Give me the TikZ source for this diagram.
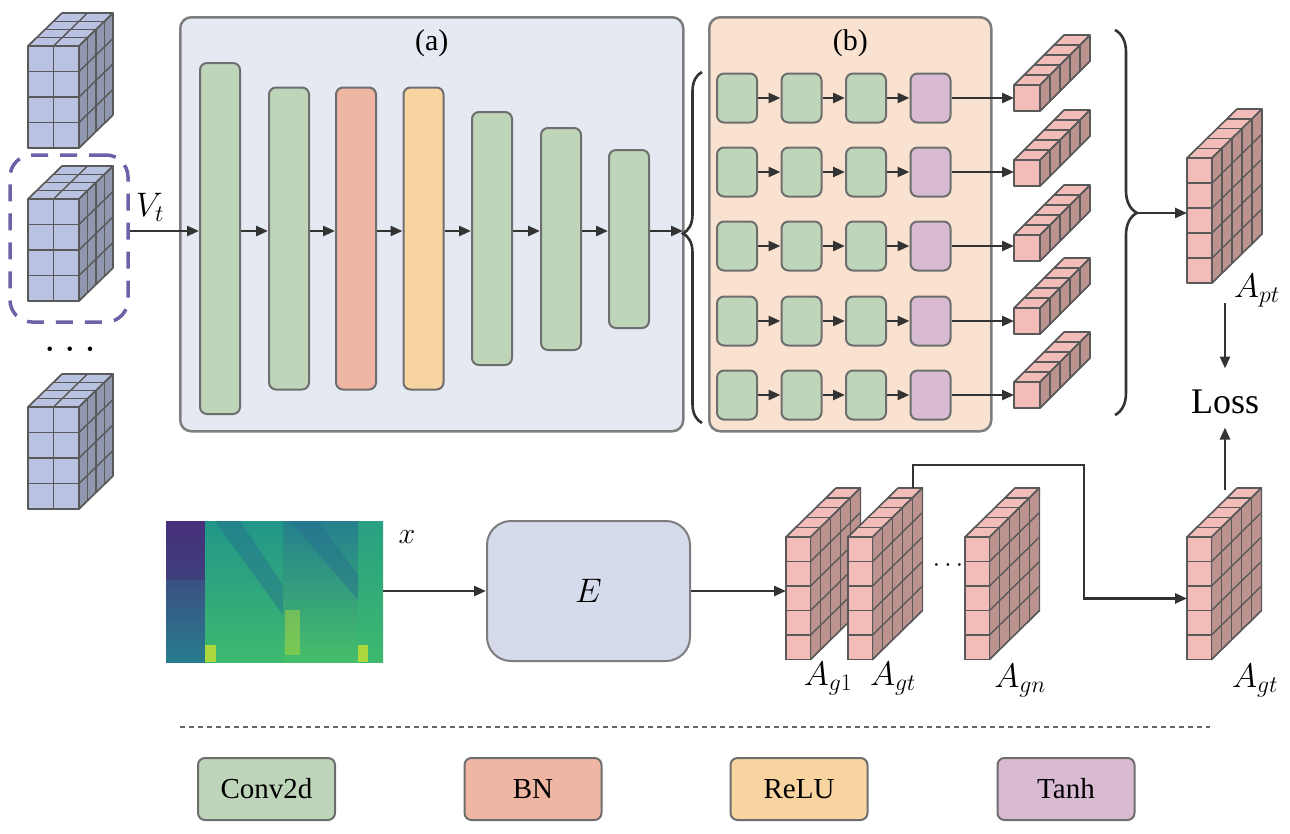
\documentclass[tikz,border=0pt]{standalone}
\usepackage{fix-cm}
\usepackage{fontspec}
\setmainfont{Liberation Serif}
\usepackage{tikz}
\usetikzlibrary{arrows.meta,positioning,decorations.pathreplacing}

\definecolor{convc}{HTML}{BFD5B9}
\definecolor{bnc}{HTML}{EFB6A3}
\definecolor{reluc}{HTML}{F8D4A0}
\definecolor{tanhc}{HTML}{D8BBD2}
\definecolor{panela}{HTML}{E4E9F2}
\definecolor{panelb}{HTML}{FAE2D0}
\definecolor{eboxc}{HTML}{D5DBEB}
\definecolor{edgec}{HTML}{6E6E6E}
\definecolor{cubeb}{HTML}{B9C3E1}
\definecolor{cubep}{HTML}{F2BCB9}
\definecolor{dashc}{HTML}{6C62A8}
\definecolor{arrc}{HTML}{333333}
\definecolor{vpurple}{RGB}{70,48,122}
\definecolor{vblue}{RGB}{40,125,142}
\definecolor{vteal}{RGB}{33,150,138}
\definecolor{vteal2}{RGB}{36,128,142}
\definecolor{vgreen}{RGB}{62,185,110}
\definecolor{vgreen2}{RGB}{70,190,105}
\definecolor{vgreen3}{RGB}{40,160,130}
\definecolor{vdark}{RGB}{38,110,142}
\definecolor{vyellow}{RGB}{200,225,50}
\colorlet{cubec}{cubep}

% #1,#2 front top-left, #3 wide, #4 high, #5 deep, #6 cube size, #7/#8 depth step, #9 name
\newcommand{\cubeblk}[9]{%
  \pgfmathsetmacro\bxr{#1+#3*#6}%
  \pgfmathsetmacro\byb{#2+#4*#6}%
  \pgfmathsetmacro\bdx{#5*#7}%
  \pgfmathsetmacro\bdy{#5*#8}%
  \filldraw[cubeedge, fill=cubec] (#1,#2) -- (\bxr,#2) -- ++(\bdx,-\bdy) -- ++({-#3*#6},0) -- cycle;
  \foreach \i in {0,...,#3} \draw[cubeedge] ({#1+\i*#6},#2) -- ++(\bdx,-\bdy);
  \foreach \k in {0,...,#5} \draw[cubeedge] ({#1+\k*#7},{#2-\k*#8}) -- ++({#3*#6},0);
  \filldraw[cubeedge, fill=cubec!78!black] (\bxr,#2) -- (\bxr,\byb) -- ++(\bdx,-\bdy) -- ++(0,{-#4*#6}) -- cycle;
  \foreach \j in {0,...,#4} \draw[cubeedge] (\bxr,{#2+\j*#6}) -- ++(\bdx,-\bdy);
  \foreach \k in {0,...,#5} \draw[cubeedge] ({\bxr+\k*#7},{#2-\k*#8}) -- ++(0,{#4*#6});
  \filldraw[cubeedge, fill=cubec] (#1,#2) rectangle (\bxr,\byb);
  \foreach \i in {0,...,#3} \draw[cubeedge] ({#1+\i*#6},#2) -- ++(0,{#4*#6});
  \foreach \j in {0,...,#4} \draw[cubeedge] (#1,{#2+\j*#6}) -- (\bxr,{#2+\j*#6});
  \node[inner sep=0pt, minimum width=#3*#6pt, minimum height=#4*#6pt, anchor=north west] (#9) at (#1,#2) {};
}

\begin{document}
\begin{tikzpicture}[x=1pt, y=-1pt,
  blk/.style={draw=edgec, line width=2pt, rounded corners=7pt, inner sep=0pt},
  bar/.style={blk, minimum width=40pt},
  sbox/.style={blk, minimum width=40pt, minimum height=49pt},
  arr/.style={draw=arrc, line width=2.6pt, -{Triangle[length=12pt,width=10pt]}},
  panel/.style={draw=edgec!90, line width=2.5pt, rounded corners=11pt, inner sep=0pt, anchor=north west},
  legbox/.style={blk, minimum width=137pt, minimum height=62pt, font=\fontsize{29}{34}\selectfont},
  cubeedge/.style={draw=black!65, line width=1.4pt, line join=round},
  brc/.style={draw=arrc, line width=2.6pt, decorate},
  lbl/.style={font=\fontsize{30}{36}\selectfont},
  albl/.style={font=\fontsize{34}{40}\selectfont}]
\useasboundingbox (0,0) rectangle (1290,833);

\coordinate (ay) at (0,231);

% input frames
\colorlet{cubec}{cubeb}
\cubeblk{28}{46}{2}{4}{4}{25.5}{8.5}{8.25}{v1}
\cubeblk{28}{199}{2}{4}{4}{25.5}{8.5}{8.25}{v2}
\cubeblk{28}{407}{2}{4}{4}{25.5}{8.5}{8.25}{v3}
\node[draw=dashc, line width=3.5pt, dash pattern=on 17pt off 12pt, rounded corners=22pt,
  minimum width=118pt, minimum height=167pt] (vbox) at (69,238.5) {};
\node[font=\fontsize{46}{50}\selectfont] at (70,349) {$\dots$};
\node[font=\fontsize{34}{40}\selectfont] at (150,207) {$V_t$};

% (a)
\node[panel, fill=panela, minimum width=503pt, minimum height=414pt] (pa) at (179,16) {};
\node[lbl, below=10pt of pa.north] {(a)};
\node[bar, fill=convc, minimum height=351pt] (b1) at (220,238.5) {};
\node[bar, fill=convc, minimum height=302pt] (b2) at (289,238.5) {};
\node[bar, fill=bnc, minimum height=302pt] (b3) at (356,238.5) {};
\node[bar, fill=reluc, minimum height=302pt] (b4) at (423.5,238.5) {};
\node[bar, fill=convc, minimum height=253pt] (b5) at (492,238.5) {};
\node[bar, fill=convc, minimum height=222pt] (b6) at (561,239) {};
\node[bar, fill=convc, minimum height=178pt] (b7) at (629,239) {};
\draw[arr] (vbox.east |- ay) -- (b1.west |- ay);
\foreach \a/\b in {b1/b2,b2/b3,b3/b4,b4/b5,b5/b6,b6/b7}
  \draw[arr] (\a.east |- ay) -- (\b.west |- ay);

% (b)
\node[panel, fill=panelb, minimum width=282pt, minimum height=414pt] (pb) at (708,16) {};
\node[lbl, below=10pt of pb.north] {(b)};
\draw[brc, decoration={brace, amplitude=19pt, aspect=0.54}] (702,423) -- (702,72);
\coordinate (lbt) at (683,233);
\draw[arr] (b7.east |- ay) -- (lbt |- ay);

\foreach \r/\yy in {1/98,2/172,3/246,4/321,5/395} {
  \node[sbox, fill=convc] (c\r a) at (737,\yy) {};
  \node[sbox, fill=convc] (c\r b) at (801.5,\yy) {};
  \node[sbox, fill=convc] (c\r c) at (866,\yy) {};
  \node[sbox, fill=tanhc] (t\r) at (930.5,\yy) {};
  \draw[arr] (c\r a) -- (c\r b);
  \draw[arr] (c\r b) -- (c\r c);
  \draw[arr] (c\r c) -- (t\r);
}

% outputs
\colorlet{cubec}{cubep}
\foreach \r/\yy in {1/85,2/160,3/235,4/308,5/382} {
  \cubeblk{1014}{\yy}{1}{1}{5}{26}{10}{10}{s\r}
  \draw[arr] (t\r.east) -- (t\r.east -| s\r.west);
}
\draw[brc, decoration={brace, amplitude=22pt, aspect=0.475}] (1115,30) -- (1115,415);
\coordinate (rbt) at (1138,213);
\cubeblk{1187}{158}{1}{5}{5}{25}{10}{9.8}{pt}
\draw[arr] (rbt) -- (pt.west |- rbt);
\node[albl] at (1257,291) {$A_{pt}$};

\node[font=\fontsize{36}{42}\selectfont] (loss) at (1225,402) {Loss};
\coordinate (ptl) at (1225,303);
\draw[arr] (ptl) -- ([yshift=18pt]loss.north);

% audio branch
\shade[top color=vpurple, bottom color=vblue] (166,521) rectangle (205,662);
\shade[top color=vteal, bottom color=vgreen] (205,521) rectangle (283,662);
\shade[top color=vteal2, bottom color=vgreen2] (283,521) rectangle (358,662);
\shade[top color=vgreen3, bottom color=vgreen] (358,521) rectangle (383,662);
\fill[vdark, opacity=0.45] (215,521) -- (240,521) -- (283,585) -- (283,615) -- cycle;
\fill[vdark, opacity=0.45] (290,521) -- (318,521) -- (358,575) -- (358,600) -- cycle;
\fill[vpurple, opacity=0.5] (166,521) rectangle (205,580);
\fill[vyellow, opacity=0.8] (205,645) rectangle (216,662);
\fill[vyellow, opacity=0.8] (358,645) rectangle (368,662);
\fill[vyellow, opacity=0.4] (285,610) rectangle (300,655);
\node[inner sep=0pt, minimum width=217pt, minimum height=141pt] (spec) at (274.5,591.5) {};
\node[font=\fontsize{30}{34}\selectfont] at (407,537) {$x$};

\node[draw=edgec!90, line width=2pt, fill=eboxc, rounded corners=24pt, minimum width=203pt,
  minimum height=140pt, albl] (enc) at (588.5,591) {$E$};
\draw[arr] (spec.east |- enc) -- (enc.west);

\cubeblk{786}{537}{1}{5}{5}{24.5}{10}{9.8}{g1}
\cubeblk{848}{537}{1}{5}{5}{24.5}{10}{9.8}{gt}
\cubeblk{965}{537}{1}{5}{5}{24.5}{10}{9.8}{gn}
\cubeblk{1187}{537}{1}{5}{5}{24.5}{10}{9.8}{gr}
\draw[arr] (enc.east) -- (enc.east -| g1.west);
\node[font=\fontsize{26}{30}\selectfont] at (948,566) {$\cdots$};
\node[albl] at (828,679) {$A_{g1}$};
\node[albl] at (893,679) {$A_{gt}$};
\node[albl] at (1020,681) {$A_{gn}$};
\node[albl] at (1255,681) {$A_{gt}$};

\coordinate (gtt) at (913,488);
\coordinate (turn) at (1084,465);
\draw[arr] (gtt) -- (gtt |- turn) -- (turn) |- (gr.west);
\coordinate (grt) at (1225,490);
\draw[arr] (grt) -- ([yshift=-10pt]loss.south);

% legend
\draw[draw=black!60, line width=1.5pt, dash pattern=on 5pt off 4pt] (180,727) -- (1210,727);
\node[legbox, fill=convc] (lconv) at (266.5,789) {Conv2d};
\node[legbox, fill=bnc] (lbn) at (533,789) {BN};
\node[legbox, fill=reluc] (lrelu) at (799,789) {ReLU};
\node[legbox, fill=tanhc] (ltanh) at (1066,789) {Tanh};
\end{tikzpicture}
\end{document}
